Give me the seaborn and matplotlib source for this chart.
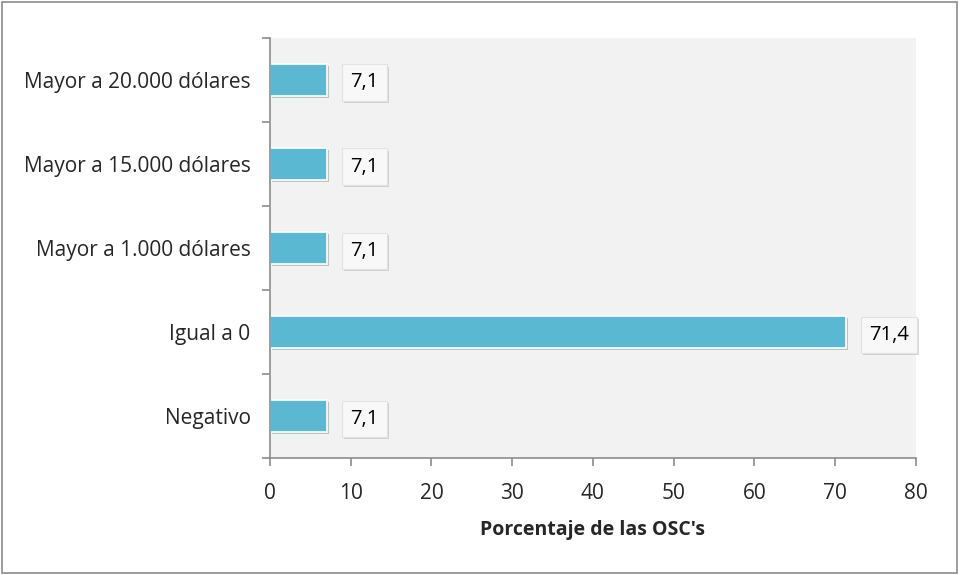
import numpy as np
import pandas as pd
import seaborn as sns
import matplotlib.pyplot as plt
import matplotlib.patheffects as pe

categorias = ["Mayor a 20.000 dólares", "Mayor a 15.000 dólares",
              "Mayor a 1.000 dólares", "Igual a 0", "Negativo"]
porcentajes = [7.1, 7.1, 7.1, 71.4, 7.1]
etiquetas = ["7,1", "7,1", "7,1", "71,4", "7,1"]
xticks = [0, 10, 20, 30, 40, 50, 60, 70, 80]

df = pd.DataFrame({"categoria": categorias, "pct": porcentajes})

sns.set_style("white")
plt.rcParams['font.family'] = ['Open Sans', 'DejaVu Sans']

fig = plt.figure(figsize=(9.61, 5.75), dpi=100)
ax = fig.add_axes([0.281, 0.203, 0.672, 0.731])
ax.set_facecolor("#f2f2f2")

sns.barplot(data=df, x="pct", y="categoria", order=categorias, orient="h",
            color="#5bb8d3", saturation=1, width=0.38, edgecolor="white",
            linewidth=1.2, ax=ax)
for p in ax.patches:
    p.set_path_effects([pe.SimplePatchShadow(offset=(1.5, -1.5), alpha=0.25),
                        pe.Normal()])

# etiquetas de datos en recuadro
for i, (v, lab) in enumerate(zip(porcentajes, etiquetas)):
    t = ax.annotate(lab, xy=(v, i), xytext=(16.5, 0), textcoords="offset points",
                    ha="left", va="center_baseline", fontsize=14.5, color="black",
                    bbox=dict(boxstyle="square,pad=0.4", fc="#f8f8f8",
                              ec="#e2e2e2", lw=0.8))
    t.get_bbox_patch().set_path_effects(
        [pe.SimplePatchShadow(offset=(1.5, -1.5), alpha=0.2), pe.Normal()])

ax.set_xlim(0, 80)
ax.set_ylim(4.5, -0.5)
ax.set_xticks(xticks)
ax.set_xticklabels([str(x) for x in xticks], fontsize=15)
ax.set_yticks(range(len(categorias)))
ax.set_yticklabels(categorias, fontsize=15)
ax.set_yticks(np.arange(-0.5, 5.0, 1.0), minor=True)
ax.tick_params(axis="y", which="major", left=True, length=0, pad=14)
ax.tick_params(axis="y", which="minor", left=True, length=6, width=1.2,
               color="#8c8c8c", direction="out")
ax.tick_params(axis="x", which="major", bottom=True, length=6, width=1.2,
               color="#8c8c8c", direction="out", pad=12)
ax.set_xlabel("Porcentaje de las OSC's", fontsize=14, fontweight="bold", labelpad=11)
ax.set_ylabel("")

for s in ["top", "right"]:
    ax.spines[s].set_visible(False)
for s in ["left", "bottom"]:
    ax.spines[s].set_color("#8c8c8c")
    ax.spines[s].set_linewidth(1.2)

fig.patches.append(plt.Rectangle((0.002, 0.004), 0.994, 0.992, transform=fig.transFigure,
                                 fill=False, ec="#8c8c8c", lw=1.2))

fig.savefig("out.png", dpi=100)
